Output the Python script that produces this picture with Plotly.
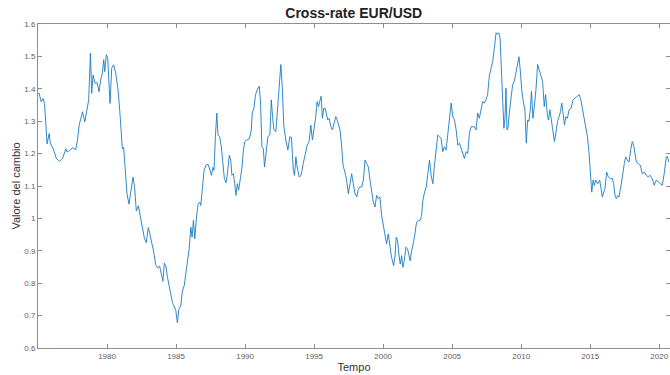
import plotly.graph_objects as go

# EUR/USD cross-rate, sampled as decimal years
anni = [
    1975.00, 1975.08, 1975.23, 1975.37, 1975.47, 1975.57, 1975.66, 1975.81, 1975.90,
    1976.10, 1976.34, 1976.58, 1976.77, 1976.94, 1977.01, 1977.11, 1977.30, 1977.50,
    1977.73, 1977.86, 1977.98, 1978.10, 1978.22, 1978.39, 1978.55, 1978.67, 1978.80,
    1978.89, 1978.99, 1979.13, 1979.28, 1979.42, 1979.54, 1979.66, 1979.76, 1979.83,
    1979.95, 1980.05, 1980.14, 1980.22, 1980.34, 1980.48, 1980.63, 1980.80, 1980.92,
    1981.04, 1981.11, 1981.20, 1981.30, 1981.45, 1981.59, 1981.74, 1981.88, 1982.00,
    1982.12, 1982.27, 1982.41, 1982.56, 1982.70, 1982.84, 1982.99, 1983.08, 1983.23,
    1983.37, 1983.52, 1983.66, 1983.81, 1983.95, 1984.05, 1984.15, 1984.26, 1984.38,
    1984.50, 1984.62, 1984.74, 1984.86, 1984.98, 1985.10, 1985.20, 1985.34, 1985.46,
    1985.59, 1985.71, 1985.83, 1985.95, 1986.07, 1986.16, 1986.26, 1986.36, 1986.48,
    1986.60, 1986.72, 1986.79, 1986.91, 1987.03, 1987.17, 1987.32, 1987.46, 1987.56,
    1987.68, 1987.75, 1987.85, 1987.95, 1988.04, 1988.16, 1988.28, 1988.38, 1988.50,
    1988.62, 1988.72, 1988.86, 1988.96, 1989.05, 1989.15, 1989.25, 1989.34, 1989.44,
    1989.53, 1989.66, 1989.78, 1989.87, 1989.97, 1990.11, 1990.26, 1990.35, 1990.45,
    1990.52, 1990.64, 1990.76, 1990.88, 1991.03, 1991.12, 1991.22, 1991.32, 1991.41,
    1991.51, 1991.65, 1991.80, 1991.90, 1991.99, 1992.09, 1992.23, 1992.38, 1992.50,
    1992.59, 1992.69, 1992.81, 1992.95, 1993.10, 1993.24, 1993.36, 1993.49, 1993.58,
    1993.68, 1993.77, 1993.92, 1994.06, 1994.21, 1994.35, 1994.50, 1994.64, 1994.76,
    1994.88, 1995.00, 1995.12, 1995.22, 1995.32, 1995.41, 1995.51, 1995.60, 1995.70,
    1995.80, 1995.89, 1995.99, 1996.09, 1996.21, 1996.33, 1996.45, 1996.57, 1996.67,
    1996.76, 1996.88, 1997.00, 1997.10, 1997.19, 1997.29, 1997.39, 1997.48, 1997.60,
    1997.72, 1997.84, 1997.96, 1998.09, 1998.21, 1998.33, 1998.45, 1998.57, 1998.69,
    1998.81, 1998.93, 1999.05, 1999.17, 1999.29, 1999.41, 1999.53, 1999.65, 1999.77,
    1999.89, 2000.01, 2000.13, 2000.25, 2000.37, 2000.49, 2000.61, 2000.76, 2000.86,
    2000.95, 2001.05, 2001.14, 2001.24, 2001.34, 2001.43, 2001.53, 2001.65, 2001.77,
    2001.87, 2001.96, 2002.06, 2002.18, 2002.30, 2002.42, 2002.54, 2002.66, 2002.78,
    2002.88, 2003.00, 2003.12, 2003.24, 2003.36, 2003.48, 2003.60, 2003.72, 2003.84,
    2003.96, 2004.08, 2004.20, 2004.32, 2004.44, 2004.56, 2004.68, 2004.80, 2004.93,
    2005.05, 2005.17, 2005.29, 2005.41, 2005.53, 2005.65, 2005.77, 2005.89, 2006.01,
    2006.13, 2006.25, 2006.37, 2006.49, 2006.61, 2006.73, 2006.85, 2006.97, 2007.09,
    2007.21, 2007.33, 2007.45, 2007.57, 2007.69, 2007.82, 2007.94, 2008.06, 2008.18,
    2008.27, 2008.37, 2008.47, 2008.56, 2008.66, 2008.75, 2008.83, 2008.90, 2008.97,
    2009.04, 2009.14, 2009.26, 2009.38, 2009.50, 2009.62, 2009.74, 2009.84, 2009.93,
    2010.05, 2010.17, 2010.27, 2010.37, 2010.47, 2010.56, 2010.66, 2010.75, 2010.85,
    2010.95, 2011.07, 2011.19, 2011.31, 2011.43, 2011.55, 2011.67, 2011.77, 2011.91,
    2011.98, 2012.08, 2012.22, 2012.32, 2012.41, 2012.51, 2012.63, 2012.75, 2012.85,
    2012.94, 2013.04, 2013.14, 2013.23, 2013.35, 2013.47, 2013.62, 2013.76, 2013.91,
    2014.05, 2014.20, 2014.32, 2014.44, 2014.63, 2014.80, 2014.92, 2015.01, 2015.11,
    2015.21, 2015.30, 2015.40, 2015.54, 2015.69, 2015.78, 2015.88, 2015.98, 2016.07,
    2016.19, 2016.31, 2016.46, 2016.60, 2016.70, 2016.80, 2016.89, 2016.99, 2017.09,
    2017.21, 2017.33, 2017.47, 2017.57, 2017.69, 2017.81, 2017.93, 2018.05, 2018.15,
    2018.24, 2018.34, 2018.48, 2018.63, 2018.77, 2018.92, 2019.06, 2019.20, 2019.35,
    2019.49, 2019.64, 2019.78, 2019.93, 2020.07, 2020.22, 2020.36, 2020.51, 2020.60,
    2020.70,
]

cambio = [
    1.385, 1.386, 1.360, 1.370, 1.355, 1.293, 1.230, 1.262, 1.230,
    1.215, 1.184, 1.176, 1.184, 1.205, 1.215, 1.205, 1.210, 1.218,
    1.212, 1.241, 1.288, 1.308, 1.329, 1.298, 1.334, 1.365, 1.510,
    1.386, 1.443, 1.417, 1.419, 1.391, 1.427, 1.448, 1.490, 1.453,
    1.505, 1.495, 1.417, 1.355, 1.464, 1.474, 1.448, 1.396, 1.334,
    1.272, 1.215, 1.220, 1.148, 1.075, 1.044, 1.096, 1.127, 1.096,
    1.023, 1.039, 1.008, 0.972, 0.940, 0.925, 0.972, 0.956, 0.930,
    0.899, 0.858, 0.847, 0.853, 0.826, 0.806, 0.862, 0.854, 0.818,
    0.786, 0.766, 0.740, 0.730, 0.716, 0.678, 0.719, 0.730, 0.776,
    0.792, 0.828, 0.869, 0.906, 0.973, 0.942, 0.994, 0.937, 1.004,
    1.045, 1.050, 1.040, 1.092, 1.149, 1.164, 1.167, 1.149, 1.133,
    1.157, 1.149, 1.252, 1.325, 1.258, 1.252, 1.221, 1.170, 1.123,
    1.110, 1.138, 1.195, 1.180, 1.133, 1.138, 1.107, 1.071, 1.107,
    1.087, 1.123, 1.159, 1.206, 1.237, 1.242, 1.244, 1.252, 1.273,
    1.325, 1.340, 1.382, 1.397, 1.408, 1.356, 1.221, 1.216, 1.159,
    1.195, 1.252, 1.258, 1.366, 1.314, 1.273, 1.268, 1.345, 1.418,
    1.475, 1.408, 1.283, 1.242, 1.211, 1.252, 1.250, 1.150, 1.133,
    1.190, 1.159, 1.128, 1.133, 1.169, 1.200, 1.226, 1.237, 1.288,
    1.242, 1.273, 1.314, 1.361, 1.345, 1.361, 1.377, 1.309, 1.340,
    1.340, 1.320, 1.304, 1.309, 1.283, 1.273, 1.294, 1.314, 1.304,
    1.288, 1.273, 1.221, 1.164, 1.149, 1.133, 1.107, 1.076, 1.107,
    1.138, 1.107, 1.076, 1.066, 1.092, 1.097, 1.097, 1.118, 1.180,
    1.169, 1.159, 1.118, 1.076, 1.050, 1.035, 1.071, 1.061, 1.066,
    1.009, 0.983, 0.957, 0.921, 0.952, 0.911, 0.880, 0.854, 0.885,
    0.942, 0.931, 0.890, 0.859, 0.885, 0.849, 0.869, 0.911, 0.906,
    0.890, 0.869, 0.900, 0.921, 0.952, 0.988, 0.993, 0.993, 1.006,
    1.056, 1.081, 1.097, 1.138, 1.180, 1.133, 1.107, 1.164, 1.206,
    1.257, 1.252, 1.247, 1.206, 1.221, 1.211, 1.263, 1.304, 1.356,
    1.314, 1.304, 1.273, 1.226, 1.232, 1.216, 1.200, 1.185, 1.206,
    1.200, 1.263, 1.283, 1.283, 1.283, 1.273, 1.325, 1.309, 1.335,
    1.361, 1.356, 1.366, 1.382, 1.439, 1.464, 1.485, 1.527, 1.573,
    1.568, 1.573, 1.558, 1.470, 1.392, 1.278, 1.314, 1.402, 1.273,
    1.278, 1.325, 1.377, 1.413, 1.423, 1.449, 1.475, 1.499, 1.459,
    1.392, 1.356, 1.335, 1.232, 1.304, 1.299, 1.335, 1.392, 1.309,
    1.345, 1.397, 1.475, 1.459, 1.444, 1.423, 1.345, 1.382, 1.314,
    1.304, 1.335, 1.299, 1.263, 1.237, 1.263, 1.299, 1.314, 1.330,
    1.356, 1.325, 1.288, 1.314, 1.309, 1.335, 1.340, 1.366, 1.371,
    1.376, 1.382, 1.366, 1.335, 1.294, 1.252, 1.200, 1.138, 1.081,
    1.118, 1.102, 1.118, 1.107, 1.118, 1.097, 1.066, 1.081, 1.092,
    1.143, 1.128, 1.123, 1.123, 1.107, 1.071, 1.061, 1.071, 1.066,
    1.092, 1.128, 1.169, 1.190, 1.180, 1.174, 1.211, 1.237, 1.226,
    1.200, 1.174, 1.169, 1.164, 1.138, 1.143, 1.133, 1.128, 1.133,
    1.123, 1.102, 1.118, 1.113, 1.107, 1.102, 1.138, 1.190, 1.190,
    1.174,
]

tick_anni = [1980, 1985, 1990, 1995, 2000, 2005, 2010, 2015, 2020]
tick_valori = [0.6, 0.7, 0.8, 0.9, 1.0, 1.1, 1.2, 1.3, 1.4, 1.5, 1.6]
etichette_y = ["0.6", "0.7", "0.8", "0.9", "1", "1.1", "1.2", "1.3", "1.4", "1.5", "1.6"]

FONT = "Liberation Sans, Arial, sans-serif"
AXIS_GREY = "#8e8e8e"
TEXT_GREY = "#5e5e5e"

fig = go.Figure()
fig.add_trace(go.Scatter(
    x=anni, y=cambio, mode="lines",
    line=dict(color="#1a7cc4", width=0.9),
    hoverinfo="x+y",
))

axis_common = dict(
    showgrid=False, zeroline=False,
    showline=True, linecolor=AXIS_GREY, linewidth=1,
    mirror="ticks", ticks="inside", ticklen=4, tickcolor=AXIS_GREY,
    tickfont=dict(family=FONT, size=8, color=TEXT_GREY),
)

fig.update_layout(
    width=670, height=375,
    margin=dict(l=38, r=0, t=24, b=27),
    paper_bgcolor="white", plot_bgcolor="white",
    showlegend=False,
    title=dict(
        text="<b>Cross-rate EUR/USD</b>",
        font=dict(family=FONT, size=14, color="#222222"),
        x=0.528, xanchor="center", y=0.965, yanchor="middle",
    ),
    xaxis=dict(
        range=[1975, 2020.78], tickvals=tick_anni,
        title=dict(text="Tempo", font=dict(family=FONT, size=11, color="#333333"), standoff=3),
        **axis_common,
    ),
    yaxis=dict(
        range=[0.6, 1.6], tickvals=tick_valori, ticktext=etichette_y,
        title=dict(text="Valore del cambio", font=dict(family=FONT, size=11, color="#333333"), standoff=1),
        **axis_common,
    ),
)

fig.write_html("out.html")
